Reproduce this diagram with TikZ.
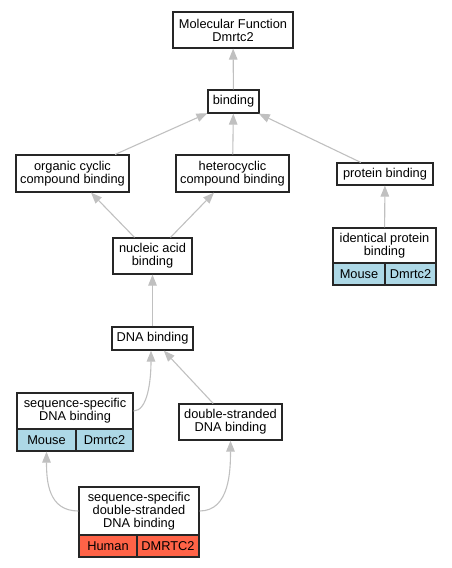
\documentclass[tikz,border=0pt]{standalone}
\usepackage{fontspec}
\setmainfont{Liberation Sans}
\usetikzlibrary{arrows.meta,calc}
\definecolor{edgegray}{HTML}{C0C0C0}
\definecolor{mouseblue}{HTML}{ADD8E6}
\definecolor{humanred}{HTML}{FF6347}
\tikzset{
  term/.style={draw=black!85, line width=1.2pt, fill=white, inner sep=0pt, align=center,
    font=\fontsize{12.8}{13}\selectfont},
  cell/.style={term},
  edge/.style={draw=edgegray, line width=1.1pt, -{Triangle[length=11pt,width=8.5pt]}, color=edgegray},
}
\begin{document}
\begin{tikzpicture}[x=1pt,y=-1pt]
\useasboundingbox (0,0) rectangle (451,568);
% nodes
\node[term, minimum width=120, minimum height=36] (mf) at (233,30) {Molecular Function\\Dmrtc2};
\node[term, minimum width=51, minimum height=23] (bind) at (233.5,101.5) {binding};
\node[term, minimum width=113, minimum height=37] (org) at (72.5,173.5) {organic cyclic\\compound binding};
\node[term, minimum width=113, minimum height=37] (het) at (232.5,173.5) {heterocyclic\\compound binding};
\node[term, minimum width=96, minimum height=22] (prot) at (385,174) {protein binding};
\node[term, minimum width=103, minimum height=35] (ident) at (384.5,245.5) {identical protein\\binding};
\node[cell, fill=mouseblue, minimum width=52, minimum height=22] (identm) at (359,274) {Mouse};
\node[cell, fill=mouseblue, minimum width=51, minimum height=22] (identd) at (410.5,274) {Dmrtc2};
\node[term, minimum width=79, minimum height=36] (nuc) at (152.5,256) {nucleic acid\\binding};
\node[term, minimum width=81, minimum height=23] (dna) at (152.5,338.5) {DNA binding};
\node[term, minimum width=116, minimum height=36] (ss) at (75,411) {sequence-specific\\DNA binding};
\node[cell, fill=mouseblue, minimum width=59, minimum height=22] (ssm) at (46.5,440) {Mouse};
\node[cell, fill=mouseblue, minimum width=57, minimum height=22] (ssd) at (104.5,440) {Dmrtc2};
\node[term, minimum width=103, minimum height=36] (ds) at (230.5,422) {double-stranded\\DNA binding};
\node[term, minimum width=120, minimum height=48] (ssds) at (139,511) {sequence-specific\\double-stranded\\DNA binding};
\node[cell, fill=humanred, minimum width=58, minimum height=22] (ssdsh) at (108,546) {Human};
\node[cell, fill=humanred, minimum width=62, minimum height=22] (ssdsd) at (168,546) {DMRTC2};
% edges
\draw[edge] (bind) -- (mf);
\draw[edge] (org) -- (bind);
\draw[edge] (het) -- (bind);
\draw[edge] (prot) -- (bind);
\draw[edge] (ident) -- (prot);
\draw[edge] (nuc) -- (org);
\draw[edge] (nuc) -- (het);
\draw[edge] (dna) -- (nuc);
\draw[edge] (ss.east) .. controls +(14,0) and +(0,30) .. ([xshift=-1.5pt]dna.south);
\draw[edge] (ds) -- (dna);
\draw[edge] (ssds.west) .. controls +(-30,0) and +(0,30) .. (ssm.south);
\draw[edge] (ssds.east) .. controls +(30,0) and +(0,30) .. (ds.south);
\end{tikzpicture}
\end{document}
